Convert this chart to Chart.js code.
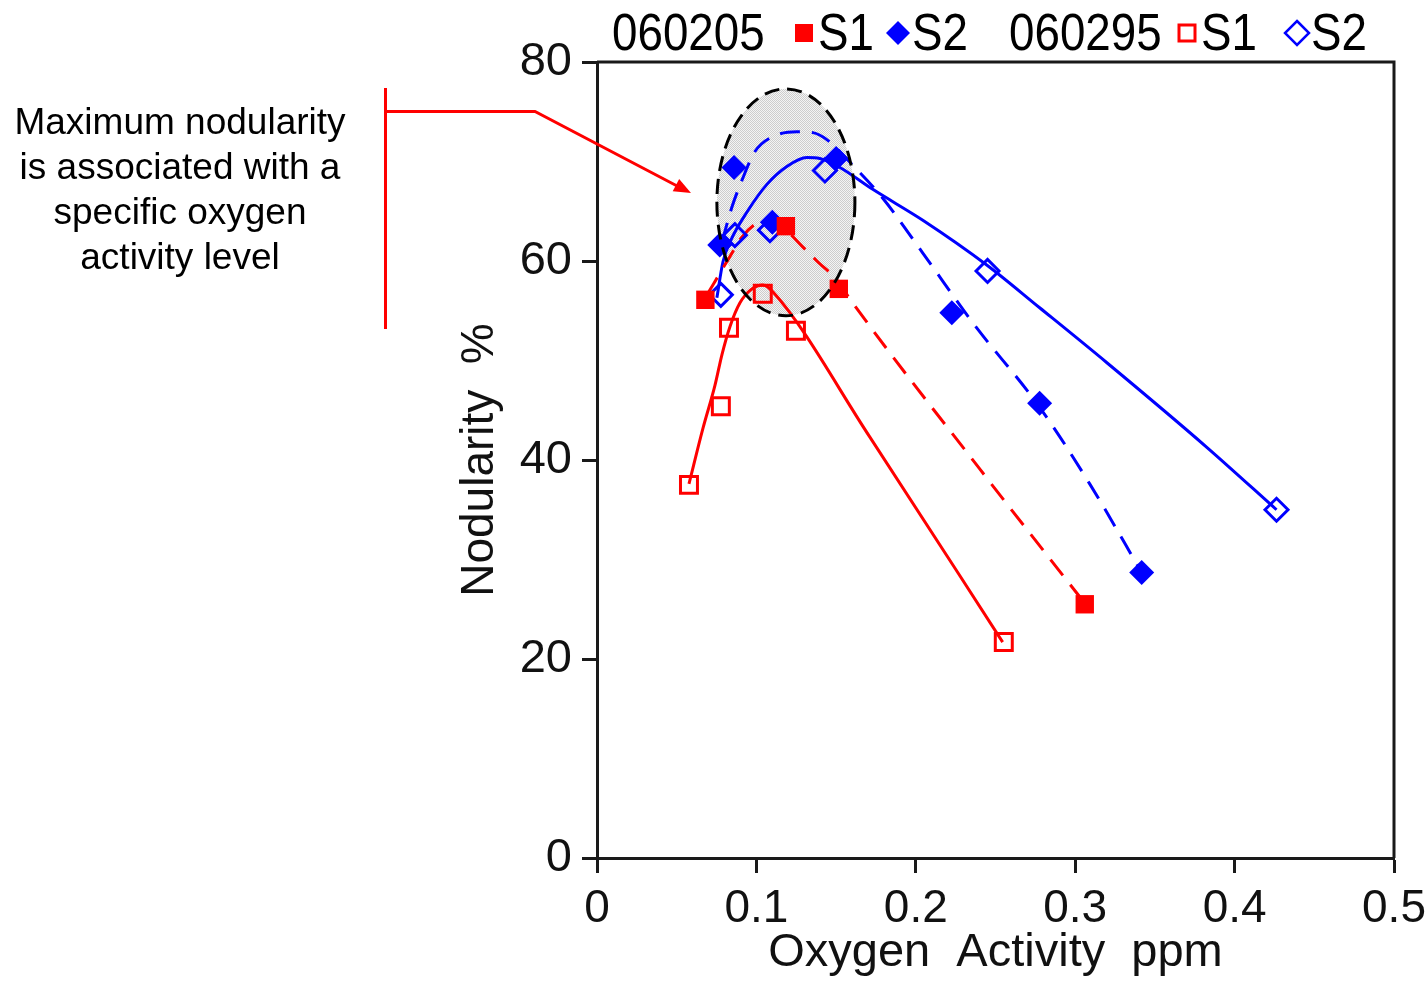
<!DOCTYPE html>
<html>
<head>
<meta charset="utf-8">
<title>Nodularity vs oxygen activity</title>
<script src="https://cdn.jsdelivr.net/npm/chart.js@4.4.0/dist/chart.umd.min.js"></script>
<style>
  html, body { margin: 0; padding: 0; background: #fff; }
  #wrap { width: 1427px; height: 981px; }
</style>
</head>
<body>
<div id="wrap"><canvas id="nodChart" width="1427" height="981"></canvas></div>
<script>
// measured points, heat 060205
const ox205S1 = [0.068, 0.1185, 0.1517, 0.306];
const nod205S1 = [56.1, 63.5, 57.2, 25.5];
const ox205S2 = [0.077, 0.086, 0.110, 0.150, 0.2226, 0.2777, 0.3417];
const nod205S2 = [61.6, 69.4, 63.9, 70.3, 54.8, 45.7, 28.7];

// measured points, heat 060295
const ox295S1 = [0.0577, 0.0777, 0.0828, 0.104, 0.1248, 0.2552];
const nod295S1 = [37.5, 45.4, 53.3, 56.7, 53.0, 21.7];
const ox295S2 = [0.0777, 0.0865, 0.1085, 0.143, 0.245, 0.4263];
const nod295S2 = [56.6, 62.6, 63.1, 69.1, 59.0, 35.0];

const fitOx205S1 = [0.069, 0.0821, 0.0909, 0.1003, 0.1085, 0.1166, 0.1292, 0.1386, 0.1505, 0.1586, 0.2401, 0.306];
const fitNod205S1 = [56.6, 60.1, 62.4, 63.8, 64.1, 63.4, 61.4, 59.9, 58.1, 56.2, 39.1, 25.6];
const fitOx205S2 = [0.0784, 0.0846, 0.0909, 0.0991, 0.1103, 0.1254, 0.1354, 0.1442, 0.1618, 0.1793, 0.2044, 0.2357, 0.2777, 0.3091, 0.3417];
const fitNod205S2 = [61.9, 65.4, 68.1, 71.0, 72.5, 73.0, 72.9, 72.2, 69.4, 66.3, 60.8, 53.8, 45.3, 37.6, 28.7];
const fitOx295S1 = [0.0577, 0.0665, 0.074, 0.0784, 0.0834, 0.0897, 0.0972, 0.1041, 0.1103, 0.1712, 0.2545];
const fitNod295S1 = [37.6, 43.2, 47.5, 50.6, 53.4, 55.8, 57.2, 57.6, 56.9, 42.3, 21.7];
const fitOx295S2 = [0.0752, 0.079, 0.084, 0.094, 0.1066, 0.1191, 0.1317, 0.1398, 0.1524, 0.173, 0.2044, 0.2445, 0.2777, 0.3197, 0.3824, 0.4263];
const fitNod295S2 = [56.3, 59.9, 62.1, 64.9, 67.7, 69.5, 70.4, 70.3, 69.4, 67.2, 64.1, 59.6, 55.3, 49.8, 41.3, 35.0];

const xTicks = [0, 0.1, 0.2, 0.3, 0.4, 0.5];
const yTicks = [0, 20, 40, 60, 80];

// highlighted region (data units): centre and half sizes
const zoneOx = [0.1185, 0.0433];
const zoneNod = [65.9, 11.4];

const noteLines = ['Maximum nodularity', 'is associated with a', 'specific oxygen', 'activity level'];

const RED = '#ff0000';
const BLUE = '#0000ff';
const INK = '#1a1a1a';
const FONT = "'Liberation Sans', Arial, Helvetica, sans-serif";

function pts(xs, ys) {
  return xs.map((x, i) => ({ x: x, y: ys[i] }));
}

function markerSet(label, xs, ys, color, style, filled, r) {
  return {
    label: label,
    data: pts(xs, ys),
    showLine: false,
    pointStyle: style,
    pointRadius: r,
    pointHoverRadius: r,
    pointBackgroundColor: filled ? color : 'rgba(0,0,0,0)',
    pointBorderColor: color,
    pointBorderWidth: filled ? 0 : 3,
    order: 0
  };
}

function fitSet(xs, ys, color, dashed) {
  return {
    data: pts(xs, ys),
    showLine: true,
    borderColor: color,
    borderWidth: 3,
    borderDash: dashed ? [20, 12] : [],
    pointRadius: 0,
    cubicInterpolationMode: 'monotone',
    fill: false,
    order: 1
  };
}

function stipple(ctx) {
  const c = document.createElement('canvas');
  c.width = 2; c.height = 2;
  const p = c.getContext('2d');
  p.fillStyle = '#f4f4f4'; p.fillRect(0, 0, 2, 2);
  p.fillStyle = '#cdcdcd'; p.fillRect(0, 0, 1, 1); p.fillRect(1, 1, 1, 1);
  return ctx.createPattern(c, 'repeat');
}

function zonePath(chart) {
  const xs = chart.scales.x, ys = chart.scales.y;
  const cx = xs.getPixelForValue(zoneOx[0]);
  const cy = ys.getPixelForValue(zoneNod[0]);
  const rx = Math.abs(xs.getPixelForValue(zoneOx[0] + zoneOx[1]) - cx);
  const ry = Math.abs(ys.getPixelForValue(zoneNod[0] + zoneNod[1]) - cy);
  const ctx = chart.ctx;
  ctx.beginPath();
  ctx.ellipse(cx, cy, rx, ry, 0, 0, Math.PI * 2);
}

function square(ctx, x, y, s, color, filled) {
  ctx.save();
  if (filled) {
    ctx.fillStyle = color;
    ctx.fillRect(x - s / 2, y - s / 2, s, s);
  } else {
    ctx.strokeStyle = color; ctx.lineWidth = 3;
    ctx.strokeRect(x - s / 2 + 1.5, y - s / 2 + 1.5, s - 3, s - 3);
  }
  ctx.restore();
}

function diamond(ctx, x, y, r, color, filled) {
  ctx.save();
  ctx.beginPath();
  ctx.moveTo(x, y - r); ctx.lineTo(x + r, y); ctx.lineTo(x, y + r); ctx.lineTo(x - r, y);
  ctx.closePath();
  if (filled) { ctx.fillStyle = color; ctx.fill(); }
  else { ctx.strokeStyle = color; ctx.lineWidth = 2.5; ctx.stroke(); }
  ctx.restore();
}

function narrowText(ctx, text, x, y) {
  ctx.save();
  ctx.fillStyle = '#000';
  ctx.translate(x, y);
  ctx.scale(0.88, 1);
  ctx.fillText(text, 0, 0);
  ctx.restore();
}

const decorations = {
  id: 'decorations',
  beforeDatasetsDraw(chart) {
    const ctx = chart.ctx;
    ctx.save();
    zonePath(chart);
    ctx.fillStyle = stipple(ctx);
    ctx.fill();
    ctx.restore();
  },
  afterDatasetsDraw(chart) {
    const ctx = chart.ctx;
    ctx.save();
    zonePath(chart);
    ctx.setLineDash([15, 8]);
    ctx.lineWidth = 3;
    ctx.strokeStyle = '#000';
    ctx.stroke();
    ctx.restore();
  },
  afterDraw(chart) {
    const ctx = chart.ctx;
    const a = chart.chartArea;
    ctx.save();

    // closing frame on top and right
    ctx.strokeStyle = INK;
    ctx.lineWidth = 3;
    ctx.beginPath();
    ctx.moveTo(a.left, a.top);
    ctx.lineTo(a.right, a.top);
    ctx.lineTo(a.right, a.bottom);
    ctx.stroke();

    // legend strip
    ctx.font = '52px ' + FONT;
    ctx.textBaseline = 'alphabetic';
    ctx.textAlign = 'left';
    narrowText(ctx, '060205', 612, 50);
    square(ctx, 804, 33, 18, RED, true);
    narrowText(ctx, 'S1', 818, 50);
    diamond(ctx, 898, 33, 12, BLUE, true);
    narrowText(ctx, 'S2', 912, 50);
    narrowText(ctx, '060295', 1009, 50);
    square(ctx, 1187, 33, 19, RED, false);
    narrowText(ctx, 'S1', 1201, 50);
    diamond(ctx, 1297, 33, 12, BLUE, false);
    narrowText(ctx, 'S2', 1311, 50);

    // call-out on the left
    ctx.fillStyle = '#000';
    ctx.font = '37px ' + FONT;
    ctx.textAlign = 'center';
    noteLines.forEach((t, i) => ctx.fillText(t, 180, 134 + i * 45));

    ctx.strokeStyle = RED;
    ctx.fillStyle = RED;
    ctx.lineWidth = 3;
    ctx.beginPath();
    ctx.moveTo(385.5, 88);
    ctx.lineTo(385.5, 329);
    ctx.moveTo(385.5, 111.5);
    ctx.lineTo(535, 111.5);
    ctx.lineTo(680, 187.5);
    ctx.stroke();
    const tipX = 691, tipY = 193;
    const ang = Math.atan2(tipY - 111.5, tipX - 535);
    ctx.beginPath();
    ctx.moveTo(tipX, tipY);
    ctx.lineTo(tipX - 17 * Math.cos(ang) + 7 * Math.sin(ang), tipY - 17 * Math.sin(ang) - 7 * Math.cos(ang));
    ctx.lineTo(tipX - 17 * Math.cos(ang) - 7 * Math.sin(ang), tipY - 17 * Math.sin(ang) + 7 * Math.cos(ang));
    ctx.closePath();
    ctx.fill();

    ctx.restore();
  }
};

const axisLines = {
  display: true,
  drawOnChartArea: false,
  drawTicks: true,
  tickLength: 15,
  tickWidth: 3,
  tickColor: INK
};

const ctx = document.getElementById('nodChart');
new Chart(ctx, {
  type: 'scatter',
  data: {
    datasets: [
      markerSet('060205 S1', ox205S1, nod205S1, RED, 'rect', true, 13),
      markerSet('060205 S2', ox205S2, nod205S2, BLUE, 'rectRot', true, 12.5),
      markerSet('060295 S1', ox295S1, nod295S1, RED, 'rect', false, 12),
      markerSet('060295 S2', ox295S2, nod295S2, BLUE, 'rectRot', false, 11.5),
      fitSet(fitOx205S1, fitNod205S1, RED, true),
      fitSet(fitOx205S2, fitNod205S2, BLUE, true),
      fitSet(fitOx295S1, fitNod295S1, RED, false),
      fitSet(fitOx295S2, fitNod295S2, BLUE, false)
    ]
  },
  options: {
    responsive: false,
    animation: false,
    events: [],
    layout: { padding: { left: 453, right: 33, top: 62, bottom: 0 } },
    plugins: {
      legend: { display: false },
      tooltip: { enabled: false }
    },
    scales: {
      x: {
        type: 'linear',
        min: 0,
        max: 0.5,
        afterBuildTicks: s => { s.ticks = xTicks.map(v => ({ value: v })); },
        afterFit: s => { s.height = 123; s.paddingLeft = 0; s.paddingRight = 0; },
        grid: axisLines,
        border: { display: true, color: INK, width: 3 },
        ticks: {
          color: '#111',
          font: { family: FONT, size: 46 },
          padding: 9,
          maxRotation: 0,
          autoSkip: false,
          callback: v => String(v)
        },
        title: {
          display: true,
          text: 'Oxygen  Activity  ppm',
          color: '#111',
          font: { family: FONT, size: 47 },
          padding: 0
        }
      },
      y: {
        min: 0,
        max: 80,
        afterBuildTicks: s => { s.ticks = yTicks.map(v => ({ value: v })); },
        afterFit: s => { s.width = 144; s.paddingTop = 0; s.paddingBottom = 0; },
        grid: axisLines,
        border: { display: true, color: INK, width: 3 },
        ticks: {
          color: '#111',
          font: { family: FONT, size: 47 },
          padding: 10,
          autoSkip: false
        },
        title: {
          display: true,
          text: 'Nodularity  %',
          color: '#111',
          font: { family: FONT, size: 46 },
          padding: 0
        }
      }
    }
  },
  plugins: [decorations]
});
</script>
</body>
</html>
